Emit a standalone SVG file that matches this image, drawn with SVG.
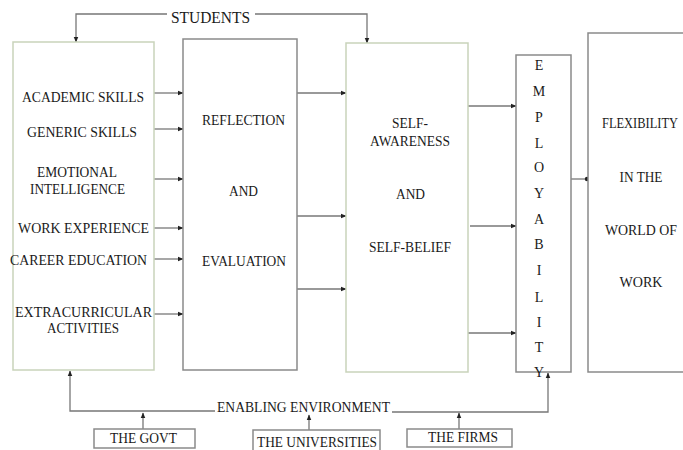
<svg xmlns="http://www.w3.org/2000/svg" width="683" height="450" viewBox="0 0 683 450">
<style>
.t{font-family:"Liberation Serif","Times New Roman",serif;font-size:15px;fill:#1a1a1a;text-anchor:middle;}
.L{font-size:14px;}
.g{fill:#fff;stroke:#c9d3bb;stroke-width:1.5;}
.b{fill:#fff;stroke:#8a8a8a;stroke-width:1.5;}
.c{fill:none;stroke:#777;stroke-width:1.3;}
</style>
<defs>
<marker id="ah" viewBox="0 0 10 10" refX="9" refY="5" markerWidth="6" markerHeight="6" orient="auto" markerUnits="userSpaceOnUse">
<path d="M0,1 L10,5 L0,9 z" fill="#222"/>
</marker>
</defs>
<g id="connectors">
<polyline class="c" points="167,14 76,14 76,42" marker-end="url(#ah)"/>
<polyline class="c" points="255,14 367,14 367,43" marker-end="url(#ah)"/>
<line class="c" x1="154" y1="93" x2="183" y2="93" marker-end="url(#ah)"/>
<line class="c" x1="154" y1="129" x2="183" y2="129" marker-end="url(#ah)"/>
<line class="c" x1="154" y1="179" x2="183" y2="179" marker-end="url(#ah)"/>
<line class="c" x1="154" y1="228" x2="183" y2="228" marker-end="url(#ah)"/>
<line class="c" x1="154" y1="259" x2="183" y2="259" marker-end="url(#ah)"/>
<line class="c" x1="154" y1="314" x2="183" y2="314" marker-end="url(#ah)"/>
<line class="c" x1="297" y1="93" x2="346" y2="93" marker-end="url(#ah)"/>
<line class="c" x1="297" y1="216" x2="346" y2="216" marker-end="url(#ah)"/>
<line class="c" x1="297" y1="289" x2="346" y2="289" marker-end="url(#ah)"/>
<line class="c" x1="465" y1="106" x2="516" y2="106" marker-end="url(#ah)"/>
<line class="c" x1="470" y1="226" x2="516" y2="226" marker-end="url(#ah)"/>
<line class="c" x1="468" y1="333" x2="516" y2="333" marker-end="url(#ah)"/>
<line class="c" x1="571" y1="179" x2="587" y2="179"/>
<circle cx="587" cy="179" r="2.2" fill="#222"/>
<polyline class="c" points="215,411 70,411 70,371" marker-end="url(#ah)"/>
<polyline class="c" points="392,412 548,412 548,373" marker-end="url(#ah)"/>
<line class="c" x1="143" y1="429" x2="143" y2="413" marker-end="url(#ah)"/>
<line class="c" x1="309" y1="430" x2="309" y2="415" marker-end="url(#ah)"/>
<line class="c" x1="459" y1="429" x2="459" y2="413" marker-end="url(#ah)"/>
</g>
<g id="students"><text class="t" x="210.5" y="23" style="font-size:16px" textLength="79" lengthAdjust="spacingAndGlyphs">STUDENTS</text></g>
<g id="skills">
<rect class="g" x="13" y="42" width="141" height="328"/>
<text class="t" x="83" y="102" textLength="122" lengthAdjust="spacingAndGlyphs">ACADEMIC SKILLS</text>
<text class="t" x="82" y="137" textLength="110" lengthAdjust="spacingAndGlyphs">GENERIC SKILLS</text>
<text class="t" x="77" y="177" textLength="80" lengthAdjust="spacingAndGlyphs">EMOTIONAL</text>
<text class="t" x="77.5" y="194" textLength="95" lengthAdjust="spacingAndGlyphs">INTELLIGENCE</text>
<text class="t" x="83.5" y="233" textLength="131" lengthAdjust="spacingAndGlyphs">WORK EXPERIENCE</text>
<text class="t" x="78.5" y="265" textLength="137" lengthAdjust="spacingAndGlyphs">CAREER EDUCATION</text>
<text class="t" x="83.5" y="317" textLength="137" lengthAdjust="spacingAndGlyphs">EXTRACURRICULAR</text>
<text class="t" x="83" y="333" textLength="72" lengthAdjust="spacingAndGlyphs">ACTIVITIES</text>
</g>
<g id="reflection">
<rect class="b" x="183" y="39" width="114" height="331"/>
<text class="t" x="243.5" y="125" textLength="83" lengthAdjust="spacingAndGlyphs">REFLECTION</text>
<text class="t" x="243.5" y="196" textLength="29" lengthAdjust="spacingAndGlyphs">AND</text>
<text class="t" x="244" y="266" textLength="84" lengthAdjust="spacingAndGlyphs">EVALUATION</text>
</g>
<g id="self">
<rect class="g" x="346" y="43" width="122" height="329"/>
<text class="t" x="410" y="128" textLength="36" lengthAdjust="spacingAndGlyphs">SELF-</text>
<text class="t" x="410" y="146" textLength="80" lengthAdjust="spacingAndGlyphs">AWARENESS</text>
<text class="t" x="410.5" y="199" textLength="29" lengthAdjust="spacingAndGlyphs">AND</text>
<text class="t" x="410" y="252" textLength="82" lengthAdjust="spacingAndGlyphs">SELF-BELIEF</text>
</g>
<g id="employability">
<rect class="b" x="516" y="55" width="55" height="317"/>
<text class="t L" x="539" y="70">E</text>
<text class="t L" x="539" y="96">M</text>
<text class="t L" x="539" y="122">P</text>
<text class="t L" x="539" y="148">L</text>
<text class="t L" x="539" y="172">O</text>
<text class="t L" x="539" y="198">Y</text>
<text class="t L" x="539" y="224">A</text>
<text class="t L" x="539" y="249">B</text>
<text class="t L" x="539" y="275">I</text>
<text class="t L" x="539" y="302">L</text>
<text class="t L" x="539" y="327">I</text>
<text class="t L" x="539" y="352">T</text>
<text class="t L" x="539" y="377">Y</text>
</g>
<g id="flexibility">
<path d="M683,33 H588 V372 H683" style="fill:#fff;stroke:#8a8a8a;stroke-width:1.5"/>
<text class="t" x="640" y="128" textLength="76" lengthAdjust="spacingAndGlyphs">FLEXIBILITY</text>
<text class="t" x="641" y="182" textLength="43" lengthAdjust="spacingAndGlyphs">IN THE</text>
<text class="t" x="641" y="235" textLength="72" lengthAdjust="spacingAndGlyphs">WORLD OF</text>
<text class="t" x="641" y="287" textLength="43" lengthAdjust="spacingAndGlyphs">WORK</text>
</g>
<g id="enabling"><text class="t" x="303.5" y="412" textLength="173" lengthAdjust="spacingAndGlyphs">ENABLING ENVIRONMENT</text></g>
<g id="govt">
<rect class="b" x="94" y="429" width="101" height="19"/>
<text class="t" x="143.5" y="443" textLength="67" lengthAdjust="spacingAndGlyphs">THE GOVT</text>
</g>
<g id="universities">
<rect class="b" x="253" y="430" width="127" height="24"/>
<text class="t" x="317" y="447" textLength="120" lengthAdjust="spacingAndGlyphs">THE UNIVERSITIES</text>
</g>
<g id="firms">
<rect class="b" x="407" y="429" width="105" height="18"/>
<text class="t" x="463" y="442" textLength="70" lengthAdjust="spacingAndGlyphs">THE FIRMS</text>
</g>
</svg>
